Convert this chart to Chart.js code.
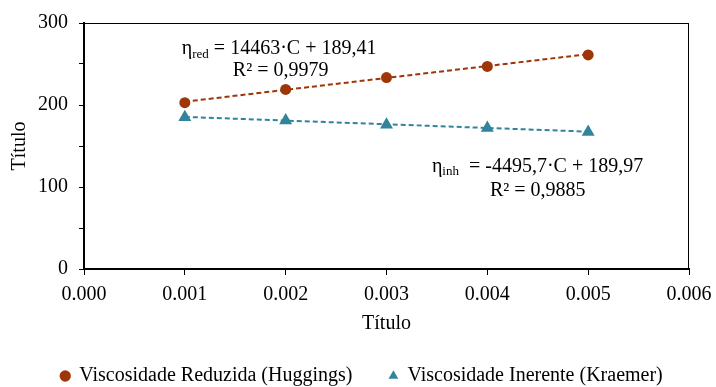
<!DOCTYPE html>
<html>
<head>
<meta charset="utf-8">
<script src="https://cdn.jsdelivr.net/npm/chart.js"></script>
<style>
  html, body { margin: 0; padding: 0; background: #fff; }
  #wrap { width: 716px; height: 387px; }
</style>
</head>
<body>
<div id="wrap"><canvas id="viscChart" width="716" height="387"></canvas></div>
<script>
const concentrations = [0.001, 0.002, 0.003, 0.004, 0.005];
const reducedVisc = [202.8, 219, 233.5, 247, 261];
const inherentVisc = [185, 181, 176, 172, 167];

// trend line end points (x and y)
const trendX = [0.001, 0.005];
const reducedTrend = [204, 262];
const inherentTrend = [185.5, 167.5];

const xTicks = [0.000, 0.001, 0.002, 0.003, 0.004, 0.005, 0.006];
const yTicks = [0, 100, 200, 300];

const RED = "#9E3608";
const BLUE = "#31849B";
const FONT = "'Liberation Serif', 'Times New Roman', serif";

function toPoints(xs, ys) {
  return xs.map((x, i) => ({ x: x, y: ys[i] }));
}

// frame + regression equations
const extras = {
  id: "extras",
  beforeDatasetsDraw(chart) {
    const a = chart.chartArea;
    const ctx = chart.ctx;
    ctx.save();
    ctx.strokeStyle = "#000";
    ctx.lineWidth = 1;
    ctx.strokeRect(a.left + 0.5, a.top + 0.5, a.right - a.left - 1, a.bottom - a.top);
    ctx.restore();
  },
  afterDatasetsDraw(chart) {
    const ctx = chart.ctx;
    const xs = chart.scales.x, ys = chart.scales.y;
    ctx.save();
    ctx.fillStyle = "#000";
    ctx.textBaseline = "middle";

    function eq(x, y, sub, rest) {
      let px = xs.getPixelForValue(x);
      const py = ys.getPixelForValue(y);
      ctx.textAlign = "left";
      ctx.font = "20px " + FONT;
      ctx.fillText("η", px, py);
      px += ctx.measureText("η").width;
      ctx.font = "13px " + FONT;
      ctx.fillText(sub, px, py + 5);
      px += ctx.measureText(sub).width;
      ctx.font = "20px " + FONT;
      ctx.fillText(rest, px, py);
    }
    function centered(x, y, txt) {
      ctx.textAlign = "center";
      ctx.font = "20px " + FONT;
      ctx.fillText(txt, xs.getPixelForValue(x), ys.getPixelForValue(y));
    }

    eq(0.00097, 268, "red", " = 14463·C + 189,41");
    centered(0.00195, 241.5, "R² = 0,9979");
    eq(0.00345, 124.4, "inh", "  = -4495,7·C + 189,97");
    centered(0.0045, 96, "R² = 0,9885");
    ctx.restore();
  }
};

new Chart(document.getElementById("viscChart"), {
  type: "scatter",
  data: {
    datasets: [
      {
        label: "Viscosidade Reduzida (Huggings)",
        data: toPoints(concentrations, reducedVisc),
        pointStyle: "circle",
        pointRadius: 5.5,
        backgroundColor: RED,
        borderColor: RED,
        borderWidth: 0,
        order: 1
      },
      {
        label: "Viscosidade Inerente (Kraemer)",
        data: toPoints(concentrations, inherentVisc),
        pointStyle: "triangle",
        pointRadius: 7.5,
        backgroundColor: BLUE,
        borderColor: BLUE,
        borderWidth: 0,
        order: 1
      },
      {
        label: "trend-red",
        type: "line",
        data: toPoints(trendX, reducedTrend),
        borderColor: RED,
        borderWidth: 2,
        borderDash: [5, 3],
        pointRadius: 0,
        fill: false,
        order: 2
      },
      {
        label: "trend-blue",
        type: "line",
        data: toPoints(trendX, inherentTrend),
        borderColor: BLUE,
        borderWidth: 2,
        borderDash: [5, 3],
        pointRadius: 0,
        fill: false,
        order: 2
      }
    ]
  },
  options: {
    responsive: false,
    animation: false,
    devicePixelRatio: 1,
    layout: { padding: { left: 8, right: 0, top: 22, bottom: -9 } },
    plugins: {
      tooltip: { enabled: false },
      legend: {
        position: "bottom",
        labels: {
          filter: item => !item.text.startsWith("trend"),
          // extra room after the first entry, like the original
          generateLabels: chart => {
            const items = Chart.defaults.plugins.legend.labels.generateLabels(chart);
            items.forEach(it => { if (it.datasetIndex === 0) it.text += "      "; });
            return items;
          },
          usePointStyle: true,
          boxWidth: 8,
          boxHeight: 8,
          padding: 7,
          color: "#000",
          font: { family: FONT, size: 20 }
        }
      }
    },
    scales: {
      x: {
        type: "linear",
        min: 0,
        max: 0.006,
        afterBuildTicks: scale => { scale.ticks = xTicks.map(v => ({ value: v })); },
        afterFit: scale => { scale.height = 90; scale.paddingRight = 27; },
        ticks: {
          color: "#000",
          padding: 8,
          font: { family: FONT, size: 20 },
          callback: v => v.toFixed(3)
        },
        grid: { drawOnChartArea: false, drawTicks: true, tickLength: 6, color: "#000", lineWidth: 1 },
        border: { color: "#000", width: 2 },
        title: { display: true, text: "Título", color: "#000", font: { family: FONT, size: 20 }, padding: { top: 0, bottom: 23 } }
      },
      y: {
        min: 0,
        max: 300,
        ticks: {
          stepSize: 25,
          color: "#000",
          padding: 11,
          font: { family: FONT, size: 20 },
          callback: v => (yTicks.includes(v) ? String(v) : "")
        },
        afterFit: scale => { scale.width = 76; },
        grid: { drawOnChartArea: false, drawTicks: true, tickLength: 5, color: "#000", lineWidth: 1 },
        border: { color: "#000", width: 2 },
        title: { display: true, text: "Título", color: "#000", font: { family: FONT, size: 20 }, padding: 0 }
      }
    }
  },
  plugins: [extras]
});
</script>
</body>
</html>
